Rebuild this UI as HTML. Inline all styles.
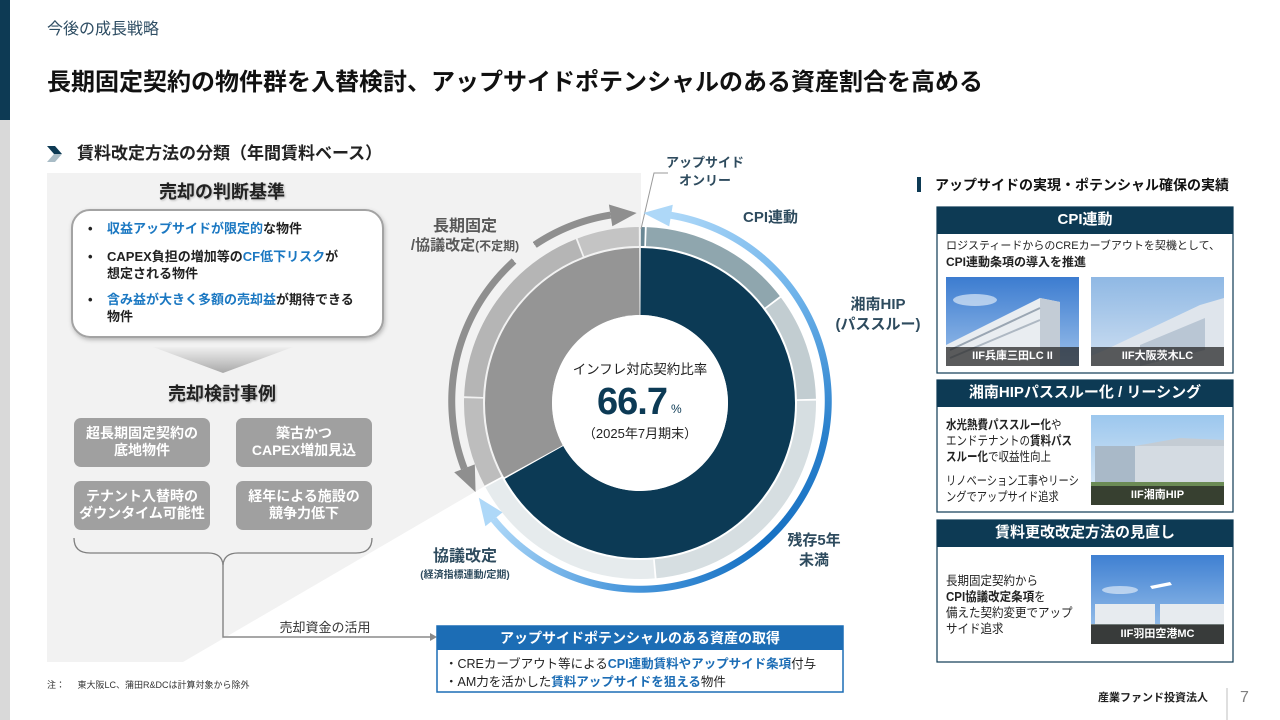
<!DOCTYPE html>
<html><head><meta charset="utf-8">
<style>
*{margin:0;padding:0;box-sizing:border-box}
body{width:1280px;height:720px;overflow:hidden;background:#fff;font-family:"Liberation Sans","Noto Sans CJK JP",sans-serif;color:#222}
#wrap{position:relative;width:1280px;height:720px;overflow:hidden}
.a{position:absolute;white-space:nowrap}
.c{text-align:center}
.b{font-weight:bold}
.bl{color:#1b78c2;font-weight:bold}
.arc{position:absolute;left:440px;top:201px;width:400px;height:400px;border-radius:50%;
 -webkit-mask-image:radial-gradient(circle at 50% 50%,transparent 184.5px,#000 185px,#000 191.5px,transparent 192px);
 mask-image:radial-gradient(circle at 50% 50%,transparent 184.5px,#000 185px,#000 191.5px,transparent 192px)}
.gb{position:absolute;background:#a0a0a0;border-radius:7px;color:#fff;font-weight:bold;font-size:14px;line-height:17px;text-align:center;padding-top:7px}
.lbl{position:absolute;left:0;right:0;bottom:0;height:19px;background:rgba(35,35,35,0.72);color:#fff;font-weight:bold;font-size:11px;line-height:19px;text-align:center}
.sq{transform-origin:0 0}
</style></head><body><div id="wrap">

<svg class="a" style="left:0;top:0" width="1280" height="720" viewBox="0 0 1280 720">
<defs>
<linearGradient id="chev" x1="0" y1="0" x2="0" y2="1"><stop offset="0" stop-color="#efefef"/><stop offset="1" stop-color="#a9a9a9"/></linearGradient>
<filter id="sh" x="-10%" y="-10%" width="120%" height="130%"><feDropShadow dx="1" dy="2" stdDeviation="2" flood-color="#000" flood-opacity="0.25"/></filter>
<linearGradient id="s1" x1="0" y1="0" x2="0" y2="1"><stop offset="0" stop-color="#3c7cd0"/><stop offset="1" stop-color="#9cc0ea"/></linearGradient>
<linearGradient id="s2" x1="0" y1="0" x2="0" y2="1"><stop offset="0" stop-color="#8fb8e4"/><stop offset="1" stop-color="#cfe0f2"/></linearGradient>
<linearGradient id="s3" x1="0" y1="0" x2="0" y2="1"><stop offset="0" stop-color="#9cc7ee"/><stop offset="1" stop-color="#e4eef7"/></linearGradient>
<linearGradient id="s4" x1="0" y1="0" x2="0" y2="1"><stop offset="0" stop-color="#3f80d2"/><stop offset="1" stop-color="#a8cbee"/></linearGradient>
</defs>
<!-- left bar -->
<rect x="0" y="0" width="10" height="120" fill="#0d3a54"/>
<rect x="0" y="120" width="10" height="600" fill="#d9d9d9"/>
<!-- chevron -->
<polygon points="47,146 55,146 62,154 54,154" fill="#0d3a54"/>
<polygon points="54,154 62,154 55,162 47,162" fill="#a9bcc6"/>
<!-- gray panel -->
<polygon points="47,173 641,173 641,395 183,662 47,662" fill="#f2f2f2"/>
<!-- white criteria box -->
<rect x="72" y="210" width="311" height="127" rx="18" fill="#fff" stroke="#a3a3a3" stroke-width="2" filter="url(#sh)"/>
<polygon points="153,347 293,347 223,373" fill="url(#chev)"/>
<!-- brace & connector -->
<path d="M74,538 Q74,553 90,553 L208,553 Q222,553 223,565 Q224,553 238,553 L356,553 Q372,553 372,538" fill="none" stroke="#7f7f7f" stroke-width="1.3"/>
<path d="M223,562 L223,637 L431,637" fill="none" stroke="#8a8a8a" stroke-width="1.5"/>
<polygon points="430,633 437,637 430,641" fill="#8a8a8a"/>
<!-- blue box -->
<rect x="437" y="626" width="406" height="66" fill="#fff" stroke="#1c6db5" stroke-width="1.5"/>
<rect x="437" y="626" width="406" height="24" fill="#1c6db5"/>
<!-- right panel -->
<rect x="917" y="177" width="4" height="15" fill="#0d3a54"/>
<rect x="937" y="207" width="296" height="166" fill="#fff" stroke="#0d3a54" stroke-width="1.2"/>
<rect x="937" y="207" width="296" height="27" fill="#0d3a54"/>
<rect x="937" y="380" width="296" height="132" fill="#fff" stroke="#0d3a54" stroke-width="1.2"/>
<rect x="937" y="380" width="296" height="27" fill="#0d3a54"/>
<rect x="937" y="520" width="296" height="142" fill="#fff" stroke="#0d3a54" stroke-width="1.2"/>
<rect x="937" y="520" width="296" height="27" fill="#0d3a54"/>
<!-- photo 1 -->
<rect x="946" y="277" width="133" height="89" fill="url(#s1)"/>
<ellipse cx="975" cy="300" rx="22" ry="6" fill="#dbe8f6" opacity="0.7"/>
<polygon points="946,345 1040,298 1060,302 1060,366 946,366" fill="#e9edf1"/>
<polygon points="1040,298 1060,302 1060,366 1040,366" fill="#c3ccd6"/>
<line x1="950" y1="350" x2="1040" y2="308" stroke="#9aa6b3" stroke-width="2"/>
<line x1="950" y1="358" x2="1040" y2="320" stroke="#aeb8c3" stroke-width="2"/>
<!-- photo 2 -->
<rect x="1091" y="277" width="133" height="89" fill="url(#s2)"/>
<polygon points="1105,350 1200,305 1224,298 1224,366 1091,366 1091,356" fill="#dfe5ec"/>
<polygon points="1140,345 1205,318 1205,350 1140,366" fill="#b9c6d4"/>
<!-- photo 3 -->
<rect x="1091" y="415" width="133" height="90" fill="url(#s3)"/>
<rect x="1095" y="446" width="129" height="36" fill="#d4dbe2"/>
<rect x="1095" y="446" width="40" height="36" fill="#a9b9c8"/>
<polygon points="1135,446 1180,438 1224,440 1224,446" fill="#c4ccd4"/>
<rect x="1091" y="482" width="133" height="23" fill="#6b8b55"/>
<!-- photo 4 -->
<rect x="1091" y="555" width="133" height="89" fill="url(#s4)"/>
<ellipse cx="1120" cy="590" rx="18" ry="4" fill="#dbe8f6" opacity="0.7"/>
<rect x="1095" y="604" width="60" height="20" fill="#e7ebef"/>
<rect x="1160" y="604" width="64" height="20" fill="#e7ebef"/>
<rect x="1091" y="624" width="133" height="20" fill="#707a78"/>
<polygon points="1150,586 1170,582 1172,585 1152,589" fill="#fff"/>
<!-- footer line -->
<line x1="1227" y1="688" x2="1227" y2="720" stroke="#bfbfbf" stroke-width="1"/>

<!-- donut: pie -->
<g transform="rotate(-90 640 403)" fill="none">
<circle cx="640" cy="403" r="121.5" stroke="#0c3a55" stroke-width="67" pathLength="360" stroke-dasharray="240.4 360" stroke-dashoffset="-0.3"/>
<circle cx="640" cy="403" r="121.5" stroke="#959595" stroke-width="67" pathLength="360" stroke-dasharray="118.4 360" stroke-dashoffset="-241.3"/>
<!-- ring -->
<circle cx="640" cy="403" r="166.5" stroke="#6a8895" stroke-width="19" pathLength="360" stroke-dasharray="1.3 360" stroke-dashoffset="-0.3"/>
<circle cx="640" cy="403" r="166.5" stroke="#8fa6ae" stroke-width="19" pathLength="360" stroke-dasharray="50.4 360" stroke-dashoffset="-2.2"/>
<circle cx="640" cy="403" r="166.5" stroke="#c2cdd1" stroke-width="19" pathLength="360" stroke-dasharray="35.4 360" stroke-dashoffset="-53.2"/>
<circle cx="640" cy="403" r="166.5" stroke="#d6dee1" stroke-width="19" pathLength="360" stroke-dasharray="85.4 360" stroke-dashoffset="-89.2"/>
<circle cx="640" cy="403" r="166.5" stroke="#e6ebed" stroke-width="19" pathLength="360" stroke-dasharray="66.2 360" stroke-dashoffset="-175.2"/>
<circle cx="640" cy="403" r="166.5" stroke="#bdbdbd" stroke-width="19" pathLength="360" stroke-dasharray="29.6 360" stroke-dashoffset="-242"/>
<circle cx="640" cy="403" r="166.5" stroke="#b5b5b5" stroke-width="19" pathLength="360" stroke-dasharray="66.4 360" stroke-dashoffset="-272.2"/>
<circle cx="640" cy="403" r="166.5" stroke="#c4c4c4" stroke-width="19" pathLength="360" stroke-dasharray="20.4 360" stroke-dashoffset="-339.2"/>
</g>
<circle cx="640" cy="403" r="88" fill="#fff"/>
<polyline points="641,229 654,173 668,173" fill="none" stroke="#9a9a9a" stroke-width="1"/>
</svg>

<!-- outer arcs -->
<div class="arc" style="background:conic-gradient(from 0deg at 50% 50%,transparent 0deg 9deg,#aed8f8 9deg,#6fb3ea 55deg,#2a80cc 100deg,#1570c2 140deg,#4a98dc 185deg,#aed8f8 231deg,transparent 231deg)"></div>
<div class="arc" style="background:conic-gradient(from 0deg at 50% 50%,transparent 0deg 249deg,#8f8f8f 249deg 318deg,transparent 318deg 326deg,#8f8f8f 326deg 351deg,transparent 351deg)"></div>

<svg class="a" style="left:0;top:0" width="1280" height="720" viewBox="0 0 1280 720">
<polygon points="643.3,213 669.2,226.4 672.8,204.7" fill="#aed8f8"/>
<polygon points="478.8,497.8 502.5,512.4 485.4,526.2" fill="#aed8f8"/>
<polygon points="636.7,213 612.3,226.2 608.9,204.5" fill="#8f8f8f"/>
<polygon points="475.6,492.1 474.8,464.4 454.2,472.3" fill="#8f8f8f"/>
</svg>

<!-- header texts -->
<div class="a" style="left:47px;top:20px;font-size:16px;line-height:20px;color:#2e4d63">今後の成長戦略</div>
<div class="a b" style="left:47px;top:68px;font-size:24px;line-height:30px;color:#111">長期固定契約の物件群を入替検討、アップサイドポテンシャルのある資産割合を高める</div>
<div class="a b" style="left:77px;top:143px;font-size:17px;line-height:22px;color:#222">賃料改定方法の分類（年間賃料ベース）</div>

<!-- left panel -->
<div class="a b c" style="left:122px;width:200px;top:181px;font-size:18px;line-height:22px;text-shadow:1px 1px 2px rgba(0,0,0,0.25)">売却の判断基準</div>
<div class="a b" style="left:88px;top:220px;font-size:13px;line-height:17px">•</div>
<div class="a b" style="left:107px;top:220px;font-size:13px;line-height:17px"><span class="bl">収益アップサイドが限定的</span>な物件</div>
<div class="a b" style="left:88px;top:248px;font-size:13px;line-height:17px">•</div>
<div class="a b" style="left:107px;top:248px;font-size:13px;line-height:17px">CAPEX負担の増加等の<span class="bl">CF低下リスク</span>が<br>想定される物件</div>
<div class="a b" style="left:88px;top:291px;font-size:13px;line-height:17px">•</div>
<div class="a b" style="left:107px;top:291px;font-size:13px;line-height:17px"><span class="bl">含み益が大きく多額の売却益</span>が期待できる<br>物件</div>
<div class="a b c" style="left:122px;width:200px;top:383px;font-size:18px;line-height:22px;text-shadow:1px 1px 2px rgba(0,0,0,0.25)">売却検討事例</div>

<div class="gb" style="left:74px;top:418px;width:136px;height:49px">超長期固定契約の<br>底地物件</div>
<div class="gb" style="left:236px;top:418px;width:136px;height:49px">築古かつ<br>CAPEX増加見込</div>
<div class="gb" style="left:74px;top:481px;width:136px;height:49px">テナント入替時の<br>ダウンタイム可能性</div>
<div class="gb" style="left:236px;top:481px;width:136px;height:49px">経年による施設の<br>競争力低下</div>

<div class="a c" style="left:255px;width:140px;top:619px;font-size:13px;line-height:17px;color:#333">売却資金の活用</div>

<div class="a b c" style="left:437px;width:406px;top:629px;font-size:14px;line-height:18px;color:#fff">アップサイドポテンシャルのある資産の取得</div>
<div class="a" style="left:445px;top:655px;font-size:12.5px;line-height:18px;color:#222">・CREカーブアウト等による<span class="b" style="color:#1c6db5">CPI連動賃料やアップサイド条項</span>付与<br>・AM力を活かした<span class="b" style="color:#1c6db5">賃料アップサイドを狙える</span>物件</div>

<div class="a" style="left:47px;top:679px;font-size:9px;line-height:12px;color:#333">注：&nbsp;&nbsp;&nbsp;&nbsp;&nbsp;東大阪LC、蒲田R&amp;DCは計算対象から除外</div>

<!-- donut labels -->
<div class="a b c" style="left:645px;width:120px;top:154px;font-size:13px;line-height:18px;color:#2e4b5e">アップサイド<br>オンリー</div>
<div class="a b" style="left:743px;top:208px;font-size:15px;line-height:20px;color:#2e4b5e">CPI連動</div>
<div class="a b c" style="left:818px;width:120px;top:295px;font-size:15px;line-height:20px;color:#2e4b5e">湘南HIP<br>(パススルー)</div>
<div class="a b c" style="left:754px;width:120px;top:531px;font-size:15px;line-height:20px;color:#2e4b5e">残存5年<br>未満</div>
<div class="a b c" style="left:403px;width:124px;top:547px;font-size:16px;line-height:20px;color:#2e4b5e">協議改定</div>
<div class="a b c" style="left:393px;width:144px;top:569px;font-size:10px;line-height:13px;color:#2e4b5e">(経済指標連動/定期)</div>
<div class="a b c" style="left:403px;width:124px;top:217px;font-size:16px;line-height:20px;color:#595959">長期固定</div>
<div class="a b c" style="left:395px;width:140px;top:236px;font-size:15px;line-height:20px;color:#595959">/協議改定<span style="font-size:12px">(不定期)</span></div>

<div class="a c" style="left:560px;width:160px;top:361px;font-size:13.5px;line-height:18px;color:#222">インフレ対応契約比率</div>
<div class="a b" style="left:597px;top:380px;font-size:38px;line-height:44px;color:#0c3a55;letter-spacing:-1px">66.7</div>
<div class="a" style="left:671px;top:402px;font-size:12px;line-height:14px;color:#0c3a55">%</div>
<div class="a c" style="left:560px;width:160px;top:425px;font-size:13px;line-height:18px;color:#222">（2025年7月期末）</div>

<!-- right panel -->
<div class="a b" style="left:935px;top:176px;font-size:14px;line-height:18px;color:#111">アップサイドの実現・ポテンシャル確保の実績</div>
<div class="a b c" style="left:937px;width:296px;top:210px;font-size:15px;line-height:20px;color:#fff">CPI連動</div>
<div class="a" style="left:946px;top:238px;font-size:11px;line-height:16px;color:#222">ロジスティードからのCREカーブアウトを契機として、</div>
<div class="a b" style="left:946px;top:254px;font-size:12px;line-height:17px;color:#222">CPI連動条項の導入を推進</div>
<div class="a" style="left:946px;top:277px;width:133px;height:89px"><div class="lbl">IIF兵庫三田LC II</div></div>
<div class="a" style="left:1091px;top:277px;width:133px;height:89px"><div class="lbl">IIF大阪茨木LC</div></div>

<div class="a b c" style="left:937px;width:296px;top:383px;font-size:15px;line-height:20px;color:#fff">湘南HIPパススルー化 / リーシング</div>
<div class="a sq" style="left:946px;top:417px;font-size:12.5px;line-height:16px;color:#222;transform:scaleX(0.84)"><span class="b">水光熱費パススルー化</span>や<br>エンドテナントの<span class="b">賃料パス<br>スルー化</span>で収益性向上</div>
<div class="a sq" style="left:946px;top:473px;font-size:12.5px;line-height:16px;color:#222;transform:scaleX(0.82)">リノベーション工事やリーシ<br>ングでアップサイド追求</div>
<div class="a" style="left:1091px;top:415px;width:133px;height:90px"><div class="lbl">IIF湘南HIP</div></div>

<div class="a b c" style="left:937px;width:296px;top:523px;font-size:15px;line-height:20px;color:#fff">賃料更改改定方法の見直し</div>
<div class="a sq" style="left:946px;top:573px;font-size:12.5px;line-height:16px;color:#222;transform:scaleX(0.92)">長期固定契約から<br><span class="b">CPI協議改定条項</span>を<br>備えた契約変更でアップ<br>サイド追求</div>
<div class="a" style="left:1091px;top:555px;width:133px;height:89px"><div class="lbl">IIF羽田空港MC</div></div>

<!-- footer -->
<div class="a b" style="left:1098px;top:691px;font-size:11px;line-height:14px;color:#222">産業ファンド投資法人</div>
<div class="a" style="left:1240px;top:689px;font-size:16px;line-height:18px;color:#808080">7</div>

</div></body></html>
